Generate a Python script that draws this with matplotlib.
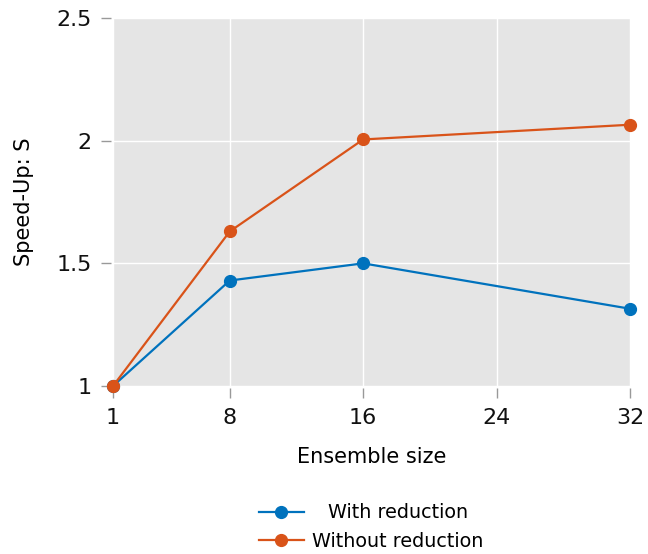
import matplotlib
matplotlib.use("Agg")
import matplotlib.pyplot as plt

# Data
ensemble_size = [1, 8, 16, 32]
with_reduction = [1.0, 1.43, 1.50, 1.315]
without_reduction = [1.0, 1.63, 2.005, 2.065]
x_ticks = [1, 8, 16, 24, 32]
y_ticks = [1, 1.5, 2, 2.5]
y_tick_labels = ["1", "1.5", "2", "2.5"]

plt.rcParams['font.family'] = ['DejaVu Sans']

fig = plt.figure(figsize=(6.48, 5.54), dpi=100)
ax = fig.add_axes([0.1744, 0.3032, 0.7978, 0.6643])
ax.set_facecolor('#e5e5e5')

ax.plot(ensemble_size, with_reduction, color='#0072bd', lw=1.6, marker='o',
        markersize=8.5, label='With reduction', clip_on=False, zorder=3)
ax.plot(ensemble_size, without_reduction, color='#d95319', lw=1.6, marker='o',
        markersize=8.5, label='Without reduction', clip_on=False, zorder=3)

ax.set_xlim(1, 32)
ax.set_ylim(1, 2.5)
ax.set_xticks(x_ticks)
ax.set_yticks(y_ticks)
ax.set_yticklabels(y_tick_labels)
ax.grid(True, color='white', lw=1.0)
ax.set_axisbelow(True)

for side in ['top', 'right']:
    ax.spines[side].set_visible(False)
for side in ['left', 'bottom']:
    ax.spines[side].set_position(('outward', 1.5))
    ax.spines[side].set_visible(False)

ax.tick_params(axis='both', direction='out', length=7, width=1.0,
               color='#999999', labelsize=16, pad=7, labelcolor='#111111')

ax.set_xlabel('Ensemble size', fontsize=15, labelpad=14)
ax.set_ylabel('Speed-Up: S', fontsize=15, labelpad=16)

leg = ax.legend(loc='upper center', bbox_to_anchor=(0.5, -0.272), frameon=False,
                fontsize=13.8, handlelength=2.3, handletextpad=0.45,
                labelspacing=0.5)

# center the shorter legend text over the longer one, as in the reference
fig.canvas.draw()
renderer = fig.canvas.get_renderer()
widths = [t.get_window_extent(renderer).width for t in leg.get_texts()]
widest = max(widths)
for t, w in zip(leg.get_texts(), widths):
    t.set_position(((widest - w) / 2, 0))

fig.savefig('out.png', dpi=100)
